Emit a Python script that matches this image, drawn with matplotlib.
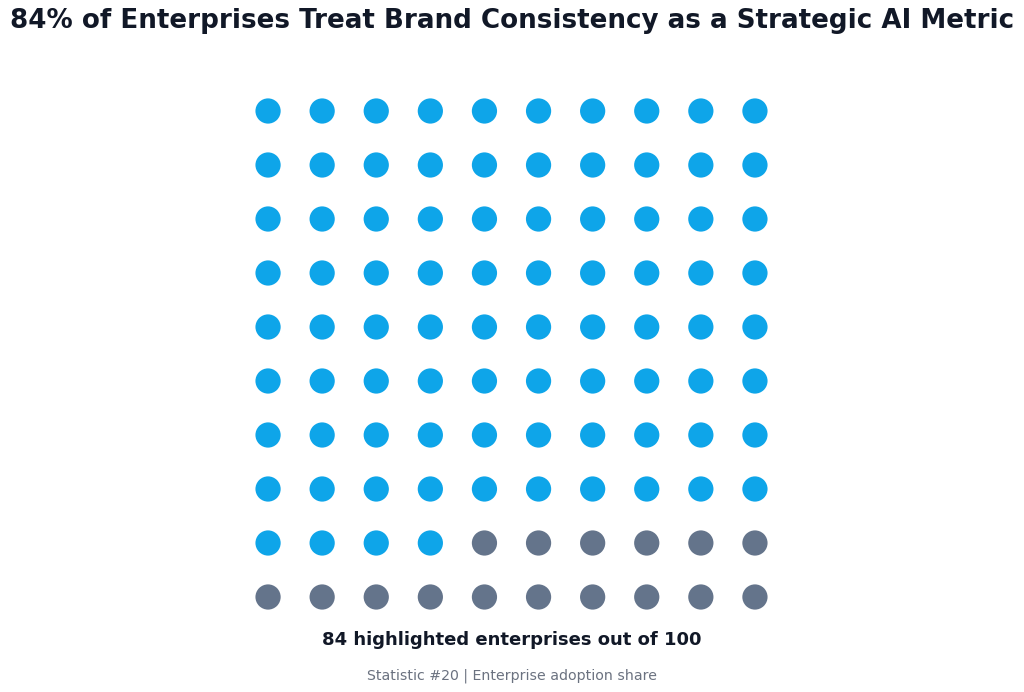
import matplotlib
matplotlib.use("Agg")
import matplotlib.pyplot as plt

# Data
title = "84% of Enterprises Treat Brand Consistency as a Strategic AI Metric"
highlighted = 84
total = 100
n_cols = 10
caption = "84 highlighted enterprises out of 100"
footer = "Statistic #20 | Enterprise adoption share"

blue = "#0EA5E9"
gray = "#64748B"

xs, ys, colors = [], [], []
for i in range(total):
    row = i // n_cols
    col = i % n_cols
    xs.append(col)
    ys.append(row)
    colors.append(blue if i < highlighted else gray)

fig = plt.figure(figsize=(10.24, 6.92), dpi=100)
ax = fig.add_axes([241 / 1024, 68 / 692, 541 / 1024, 540 / 692])
ax.scatter(xs, ys, s=330, c=colors, linewidths=0)
ax.set_xlim(-0.5, 9.5)
ax.set_ylim(9.5, -0.5)
ax.axis("off")

fig.text(0.5, 1 - 21 / 692, title, ha="center", va="center",
         fontsize=18.8, fontweight="bold", color="#111827")
fig.text(0.5, 1 - 640 / 692, caption, ha="center", va="center",
         fontsize=13, fontweight="bold", color="#111827")
fig.text(0.5, 1 - 676 / 692, footer, ha="center", va="center",
         fontsize=10.2, color="#6B7280")

fig.savefig("out.png", dpi=100)
